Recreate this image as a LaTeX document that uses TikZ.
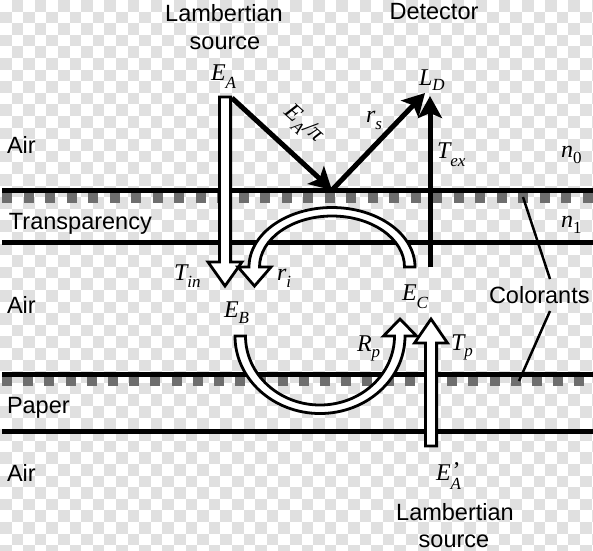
\documentclass[tikz,border=0pt]{standalone}
\usepackage{fontspec}
\setmainfont{Liberation Sans}
\newfontfamily\tim{Liberation Serif}
\usetikzlibrary{arrows.meta}
\definecolor{chk}{HTML}{E0E0E0}
\definecolor{dsh}{HTML}{6E6E6E}
\newcommand\subl[2][7pt]{\raisebox{-#1}{\fontsize{17}{17}\selectfont\tim\itshape #2}}
\newcommand\subu[2][7pt]{\raisebox{-#1}{\fontsize{17}{17}\selectfont\tim #2}}
\newcommand\ml[3][7pt]{{\tim\itshape #2}\subl[#1]{#3}}
\begin{document}
\begin{tikzpicture}[x=1pt,y=-1pt,
  lbl/.style={font=\fontsize{23.5}{26}\selectfont, inner sep=0pt, outer sep=0pt},
  mth/.style={font=\fontsize{24}{26}\selectfont, inner sep=0pt, outer sep=0pt},
  layer/.style={line width=5pt},
  dashrow/.style={fill=dsh},
  blk/.style={line width=5pt, -{Stealth[length=22pt,width=24pt,inset=5pt]}},
  hollow/.style={draw=black, fill=white, line width=2.8pt, line join=miter},
  ptr/.style={line width=2.5pt}]
\useasboundingbox (0,0) rectangle (593,550);
% checkerboard background
\begin{scope}
\clip (0,0) rectangle (593,550);
\fill[white] (0,0) rectangle (593,550);
\foreach \i in {0,...,51}{
  \foreach \j in {0,...,47}{
    \pgfmathtruncatemacro\k{mod(\i+\j,2)}
    \ifnum\k=1 \fill[chk] (\i*11.6,\j*11.6) rectangle ++(11.6,11.6);\fi
  }}
% colorant dashes
\foreach \k in {0,...,27}{
  \fill[dashrow] (2+\k*21.5,193) rectangle ++(10,10);
  \fill[dashrow] (2+\k*21.2,377) rectangle ++(10,9);
}
\end{scope}
% interfaces
\coordinate (L1a) at (2,190);   \coordinate (L1b) at (593,190);
\coordinate (L2a) at (2,242);   \coordinate (L2b) at (593,242);
\coordinate (L3a) at (2,374);   \coordinate (L3b) at (593,374);
\coordinate (L4a) at (2,431);   \coordinate (L4b) at (593,431);
\draw[layer] (L1a) -- (L1b);
\draw[layer] (L2a) -- (L2b);
\draw[layer] (L3a) -- (L3b);
\draw[layer] (L4a) -- (L4b);
% hollow arrows
\draw[hollow] (219.4,97) -- (230.6,97) -- (230.6,262) -- (242,262) -- (225,286) -- (208,262) -- (219.4,262) -- cycle;
\draw[hollow] (404.5,267) -- (415,267) arc[start angle=0,end angle=-180,x radius=83,y radius=59.5]
  -- (238,267) -- (254.5,286) -- (271,267) -- (259.5,267)
  arc[start angle=180,end angle=360,x radius=72.5,y radius=51] -- cycle;
\draw[hollow] (245.5,336) -- (235,336) arc[start angle=180,end angle=0,x radius=85,y radius=77.5]
  -- (416.5,336) -- (400,319) -- (383.5,336) -- (394.5,336)
  arc[start angle=0,end angle=180,x radius=74.5,y radius=69] -- cycle;
\draw[hollow] (425.4,446) -- (425.4,343) -- (414.5,343) -- (431,319) -- (447.5,343) -- (436.6,343) -- (436.6,446) -- cycle;
% black arrows
\coordinate (corner) at (232,98);
\coordinate (bounce) at (332,190);
\coordinate (LDtip) at (425,93);
\coordinate (Texbot) at (430,267);
\coordinate (Textip) at (430,96);
\draw[blk] (corner) -- (bounce);
\draw[blk] (bounce) -- (LDtip);
\draw[blk] (Texbot) -- (Textip);
% colorant pointers
\node[lbl,anchor=base west] (col) at (489,303) {Colorants};
\coordinate (cpT) at (523,197);
\coordinate (cpB) at (519,381);
\coordinate (colT) at (550,279);
\coordinate (colB) at (550,311);
\draw[ptr] (cpT) -- (colT);
\draw[ptr] (colB) -- (cpB);
% text labels
\node[lbl,anchor=base] (lam1) at (224,21) {Lambertian};
\node[lbl,anchor=base] (src1) at (225,49) {source};
\node[lbl,anchor=base] (det) at (434,19) {Detector};
\node[lbl,anchor=base west] (air1) at (7,153) {Air};
\node[lbl,anchor=base west] (trans) at (9,229) {Transparency};
\node[lbl,anchor=base west] (air2) at (7,313) {Air};
\node[lbl,anchor=base west] (paper) at (7,413) {Paper};
\node[lbl,anchor=base west] (air3) at (7,481) {Air};
\node[lbl,anchor=base] (lam2) at (455,520) {Lambertian};
\node[lbl,anchor=base] (src2) at (454,547) {source};
% math labels
\node[mth,anchor=base west] (EA) at (211,80) {\ml[8pt]{E}{A}};
\node[mth,anchor=base west] (LD) at (419,85) {\ml[5pt]{L}{D}};
\node[mth,anchor=base west] (rs) at (366,122) {\ml{r}{s}};
\node[mth,anchor=base west] (Tex) at (437,158) {\ml[8pt]{T}{ex}};
\node[mth,anchor=base west] (n0) at (561,157) {{\tim\itshape n}\subu[6pt]{0}};
\node[mth,anchor=base west] (n1) at (561,227) {{\tim\itshape n}\subu[6pt]{1}};
\node[mth,anchor=base west] (Tin) at (174,280) {\ml{T}{in}};
\node[mth,anchor=base west] (ri) at (277,280) {\ml{r}{i}};
\node[mth,anchor=base west] (EB) at (224,317) {\ml[6pt]{E}{B}};
\node[mth,anchor=base west] (EC) at (402,300) {\ml[8pt]{E}{C}};
\node[mth,anchor=base west] (Rp) at (357,351) {\ml[6pt]{R}{p}};
\node[mth,anchor=base west] (Tp) at (451,350) {\ml[6pt]{T}{p}};
\node[mth,anchor=base west] (EAp) at (436,480) {{\tim\itshape E}\rlap{\kern2pt\raisebox{2pt}{\tim ’}}\subl[9pt]{A}};
\node[mth,rotate=-42] (EApi) at (303,125) {\ml{E}{A}{\tim\itshape /π}};
\end{tikzpicture}
\end{document}
